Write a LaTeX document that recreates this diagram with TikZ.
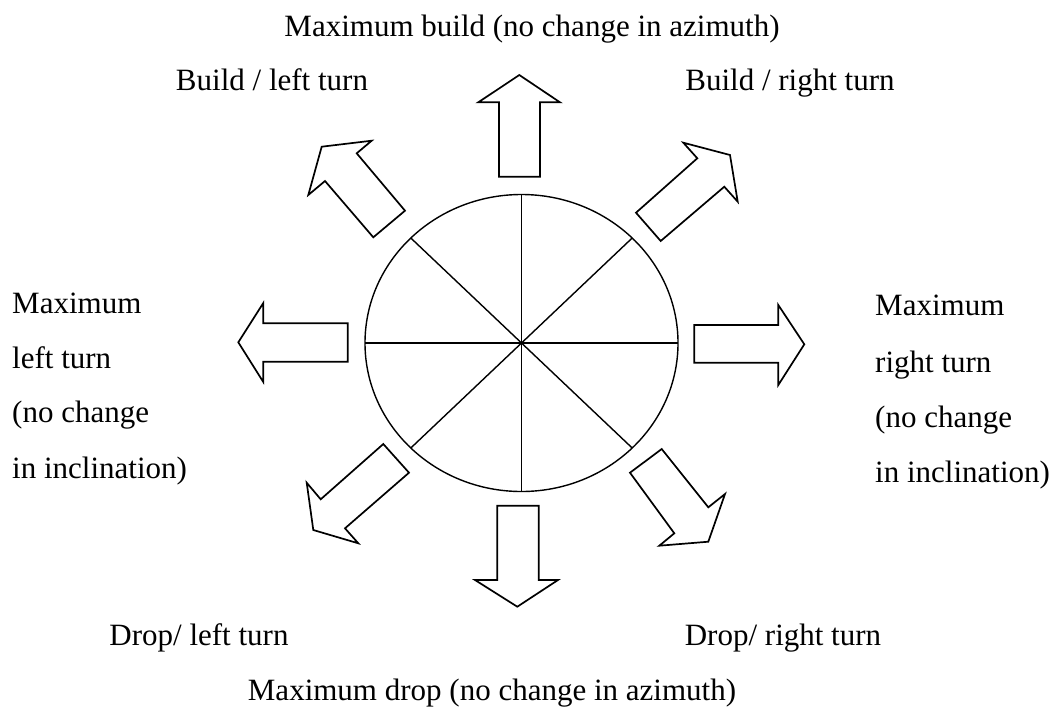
\documentclass[tikz,border=0pt]{standalone}
\usepackage{fontspec}
\setmainfont{Liberation Serif}
\begin{document}
\begin{tikzpicture}[x=1pt,y=-1pt,
  lbl/.style={inner sep=0pt, font=\fontsize{31}{36}\selectfont},
  blk/.style={draw, line width=1.7pt, line join=miter, fill=white},
  divline/.style={line width=1.4pt}]
\useasboundingbox (0,0) rectangle (1059,710);
\coordinate (c) at (521.5,343);
% wheel
\draw[divline] (c) ellipse [x radius=156.5, y radius=148.5];
\draw[divline] (c) ++(-156.5,0) -- ++(313,0);
\draw[divline] (c) ++(0,-148.5) -- ++(0,297);
\draw[divline] (c) ++(-110.7,-105) -- ++(221.4,210);
\draw[divline] (c) ++(-110.7,105) -- ++(221.4,-210);
% block arrows
\draw[blk] (499,176.7) -- (499,102.3) -- (478.3,102.3) -- (519.3,75) -- (560,102.3) -- (540,102.3) -- (540,176.7) -- cycle;
\draw[blk] (497.3,505.7) -- (497.3,580) -- (475,580) -- (517.3,606.7) -- (558,580) -- (538.7,580) -- (538.7,505.7) -- cycle;
\draw[blk] (347.7,323.3) -- (263.3,323.3) -- (263.3,303) -- (238.3,342.3) -- (263.3,382) -- (263.3,361.7) -- (347.7,361.7) -- cycle;
\draw[blk] (694.3,325) -- (778.3,325) -- (778.3,305) -- (804.3,344.3) -- (778.3,385) -- (778.3,362.7) -- (694.3,362.7) -- cycle;
\draw[blk] (636,212.7) -- (697.3,158.3) -- (683.3,142.7) -- (730,155) -- (737.7,201.7) -- (724.3,186.7) -- (660.7,241) -- cycle;
\draw[blk] (373.3,237.3) -- (325,181) -- (308.3,195) -- (321.7,146.7) -- (371.7,140.7) -- (356.7,153.3) -- (405,210.7) -- cycle;
\draw[blk] (383.3,444) -- (320.7,499.3) -- (306.7,482.7) -- (313.3,530) -- (358.3,543.3) -- (345,528.3) -- (409,472.7) -- cycle;
\draw[blk] (661.7,449) -- (708.3,507.3) -- (725,494) -- (708.3,541.7) -- (659.3,545.7) -- (674.3,533.3) -- (630,472.7) -- cycle;
% labels
\node[lbl, anchor=base] (ttop) at (532,36) {Maximum build (no change in azimuth)};
\node[lbl, anchor=base] (tbl) at (272,90) {Build / left turn};
\node[lbl, anchor=base] (tbr) at (790,90) {Build / right turn};
\node[lbl, anchor=base west] (l1) at (12,313) {Maximum};
\node[lbl, anchor=base west] (l2) at (12,368) {left turn};
\node[lbl, anchor=base west] (l3) at (12,422) {(no change};
\node[lbl, anchor=base west] (l4) at (12,478) {in inclination)};
\node[lbl, anchor=base west] (r1) at (875,315) {Maximum};
\node[lbl, anchor=base west] (r2) at (875,372) {right turn};
\node[lbl, anchor=base west] (r3) at (875,427) {(no change};
\node[lbl, anchor=base west] (r4) at (875,482) {in inclination)};
\node[lbl, anchor=base] (tdl) at (199,645) {Drop/ left turn};
\node[lbl, anchor=base] (tdr) at (783,645) {Drop/ right turn};
\node[lbl, anchor=base] (tbot) at (492,700) {Maximum drop (no change in azimuth)};
\end{tikzpicture}
\end{document}
